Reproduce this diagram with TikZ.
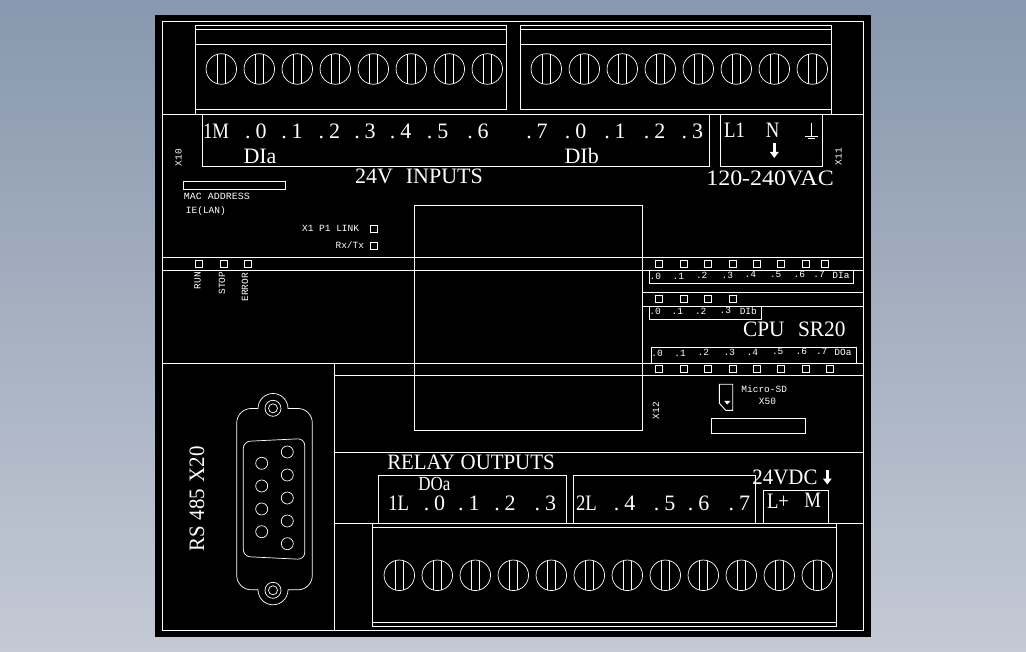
\documentclass[tikz,border=0pt]{standalone}
\usepackage{fontspec}
\setmainfont{Liberation Serif}
\newfontfamily\cadfont{Liberation Mono}
\usetikzlibrary{arrows.meta}

\definecolor{skytop}{RGB}{136,152,174}
\definecolor{skybottom}{RGB}{196,201,213}

\tikzset{
	wire/.style={draw=white, line width=0.9pt},
	thin wire/.style={draw=white, line width=0.7pt},
	big/.style={text=white, inner sep=0pt, text height=14.8pt, text depth=0pt, font=\fontsize{22}{22}\selectfont},
	tiny/.style={text=white, inner sep=0pt, text height=6.4pt, text depth=0pt, font=\cadfont\fontsize{9.5}{9.5}\selectfont},
	led/.style={draw=white, line width=0.9pt, inner sep=0pt, minimum size=7pt},
	screw/.style={draw=white, line width=0.7pt, circle, inner sep=0pt, minimum size=30.5pt},
	hole/.style={draw=white, line width=0.7pt, circle, inner sep=0pt, minimum size=12pt},
	power/.style={white, line width=2.4pt, -{Triangle[length=6pt,width=8.5pt]}}
}
\newcommand{\screwrow}[4]{%
	\foreach \i in {1,...,#3} {
		\node[screw] (#1\i) at ({#2+38*(\i-1)},#4) {};
		\draw[thin wire] ([xshift=-4.2pt,yshift=14.7pt]#1\i.center) -- ([xshift=-4.2pt,yshift=-14.7pt]#1\i.center);
		\draw[thin wire] ([xshift=4.4pt,yshift=14.7pt]#1\i.center) -- ([xshift=4.4pt,yshift=-14.7pt]#1\i.center);
	}
}
\newcommand{\dotlabel}[1]{.\hspace{5pt}#1}

\begin{document}
\begin{tikzpicture}[x=1pt, y=-1pt]
	\useasboundingbox (0,0) rectangle (1026,652);
	\shade[top color=skytop, bottom color=skybottom] (0,0) rectangle (1026,652);
	\fill[black] (155,15) rectangle (871,637);
	\draw[wire] (162.3,21.3) rectangle (863.3,630);

	% top terminal blocks
	\draw[wire] (195.3,114.3) -- (195.3,25.3) -- (506.7,25.3) -- (506.7,109.3) -- (195.3,109.3);
	\draw[wire] (195.3,29.3) -- (506.7,29.3);
	\draw[wire] (195.3,44.3) -- (506.7,44.3);
	\draw[wire] (520.3,109.3) -- (520.3,25.3) -- (831.7,25.3) -- (831.7,114.3);
	\draw[wire] (520.3,109.3) -- (831.7,109.3);
	\draw[wire] (520.3,29.3) -- (831.7,29.3);
	\draw[wire] (520.3,44.3) -- (831.7,44.3);
	\screwrow{ina}{221.3}{8}{69}
	\screwrow{inb}{546.3}{8}{69}

	% front plate lines
	\draw[wire] (162.3,114.3) -- (863.3,114.3);
	\draw[wire] (202.7,114.3) -- (202.7,166) -- (709.3,166) -- (709.3,114.3);
	\draw[wire] (720.7,114.3) -- (720.7,166) -- (822.3,166) -- (822.3,114.3);
	\draw[wire] (414.3,205.3) rectangle (642.7,430.3);
	\draw[wire] (162.3,257.3) -- (863.3,257.3);
	\draw[wire] (162.3,270.3) -- (863.3,270.3);
	\draw[wire] (642.7,292.3) -- (863.3,292.3);
	\draw[wire] (642.7,306.7) -- (863.3,306.7);
	\draw[wire] (162.3,363.3) -- (863.3,363.3);
	\draw[wire] (334.3,375.3) -- (863.3,375.3);
	\draw[wire] (334.3,363.3) -- (334.3,630);
	\draw[wire] (334.3,452.3) -- (863.3,452.3);
	\draw[wire] (334.3,523.7) -- (863.3,523.7);

	% top labels
	\node[big, xscale=0.85] (oneM) at (216,131.5) {1M};
	\foreach \x/\t in {255.8/0, 292/1, 329.3/2, 365/3, 400.7/4, 437.7/5, 478/6, 537/7, 575.7/0, 615/1, 654.5/2, 692.3/3}
		\node[big] (in\x) at (\x,131.5) {\dotlabel{\t}};
	\node[big] (dia) at (260,155.7) {DIa};
	\node[big] (dib) at (581.7,155.7) {DIb};
	\node[big] (inputs) at (419,175.7) {24V\hspace{13pt}INPUTS};
	\node[big, xscale=0.85] (lone) at (734.5,129.7) {L1};
	\node[big, xscale=0.85] (neutral) at (772.7,129.7) {N};
	\node[big, xscale=1.09] (vac) at (770,177.7) {120-240VAC};
	\draw[power] (774.3,143) -- (774.3,158);
	\draw[thin wire] (811.3,123) -- (811.3,136.5) (805,136.5) -- (817.6,136.5) (807.5,138.3) -- (815,138.3);

	% small labels
	\node[tiny, rotate=90] (xten) at (178.3,157.7) {X10};
	\node[tiny, rotate=90] (xeleven) at (838.3,156.7) {X11};
	\node[tiny, rotate=90] (xtwelve) at (656,410.7) {X12};
	\draw[wire] (183.3,181.3) rectangle (285.7,189.3);
	\node[tiny, xscale=1.05, anchor=west] (mac) at (183.7,196.7) {MAC ADDRESS};
	\node[tiny, anchor=west] (lan) at (185.7,210.3) {IE(LAN)};
	\node[tiny, anchor=east] (link) at (359.3,228.7) {X1 P1 LINK};
	\node[tiny, anchor=east] (rxtx) at (364.3,245) {Rx/Tx};
	\node[led] (ledlink) at (374,229) {};
	\node[led] (ledrx) at (374,245.7) {};
	\node[led] (ledrun) at (199.3,264) {};
	\node[led] (ledstop) at (224,264) {};
	\node[led] (lederror) at (248,264) {};
	\node[tiny, rotate=90] (run) at (197.3,280.7) {RUN};
	\node[tiny, rotate=90] (stop) at (222,283) {STOP};
	\node[tiny, rotate=90] (error) at (245,287.3) {ERROR};

	% status leds and their strips
	\foreach \x in {659.3,684,708.3,732.7,757,781.3,806,824.7}
		\node[led] (leda\x) at (\x,263.7) {};
	\foreach \x in {659.3,684,708.3,732.7}
		\node[led] (ledb\x) at (\x,299) {};
	\foreach \x in {659.3,684,708.3,732.7,757,781.3,806,830}
		\node[led] (ledc\x) at (\x,369) {};
	\draw[wire] (649.3,270.3) -- (649.3,283.3) -- (853.7,283.3) -- (853.7,270.3);
	\draw[wire] (649.3,306.7) -- (649.3,319.3) -- (761.7,319.3) -- (761.7,306.7);
	\draw[wire] (651.3,363.3) -- (651.3,347.7) -- (856.7,347.7) -- (856.7,363.3);
	\foreach \x/\y/\t in {655.3/276.7/.0, 678.3/276.7/.1, 701.7/275.3/.2, 727.3/275.3/.3, 750.3/274.7/.4, 775.7/274.7/.5, 799.3/274.7/.6, 819/274.7/.7, 841/275.3/DIa}
		\node[tiny] (stripa\x) at (\x,\y) {\t};
	\foreach \x/\y/\t in {655/311.3/.0, 677.3/311.3/.1, 700.7/311.3/.2, 725.3/310.3/.3, 748.3/311.3/DIb}
		\node[tiny] (stripb\x) at (\x,\y) {\t};
	\foreach \x/\y/\t in {657/353.7/.0, 680/353.7/.1, 703.3/352.3/.2, 729.3/352.3/.3, 752.3/352.3/.4, 777.7/351.7/.5, 801.3/351.7/.6, 821.7/351.7/.7, 843/352.3/DOa}
		\node[tiny] (stripc\x) at (\x,\y) {\t};
	\node[big, xscale=0.97] (cpu) at (794.3,328.7) {CPU\hspace{14pt}SR20};

	% micro sd
	\draw[wire] (719.3,384.3) -- (732.7,384.3) -- (732.7,410.3) -- (725.7,410.3) -- (719.3,403.3) -- cycle;
	\fill[white] (724.3,401) -- (730.3,401) -- (727.3,404.5) -- cycle;
	\node[tiny] (sd) at (764.2,389.3) {Micro-SD};
	\node[tiny] (xfifty) at (767.5,401.7) {X50};
	\draw[wire] (711.3,418.3) rectangle (805.7,433.7);

	% rs485 port
	\node[big, rotate=90, xscale=0.95] (rs) at (196.7,498.7) {RS 485\hspace{7pt}X20};
	\draw[thin wire] (236.7,423) arc[start angle=180, end angle=270, radius=14.5] -- (258,408.5)
		arc[start angle=180, end angle=360, radius=15] -- (298,408.5)
		arc[start angle=270, end angle=360, radius=14.3] -- (312.3,575.5)
		arc[start angle=0, end angle=90, radius=14.3] -- (288,589.8)
		arc[start angle=0, end angle=180, radius=15] -- (251.2,589.8)
		arc[start angle=90, end angle=180, radius=14.5] -- cycle;
	\node[hole, minimum size=16pt] (bolta) at (273,408.3) {};
	\node[hole, minimum size=9pt] (boltai) at (273,408.3) {};
	\node[hole, minimum size=16pt] (boltb) at (273,590.3) {};
	\node[hole, minimum size=9pt] (boltbi) at (273,590.3) {};
	\draw[thin wire, rounded corners=7pt] (243.3,441.5) -- (304.7,438.5) -- (304.7,559.5) -- (243.3,556.5) -- cycle;
	\foreach \y in {452,475,498,521,543.7}
		\node[hole] (pina\y) at (287.3,\y) {};
	\foreach \y in {463.3,486,509,531.7}
		\node[hole] (pinb\y) at (261.7,\y) {};

	% bottom labels
	\node[big, xscale=0.95] (relay) at (471,462.3) {RELAY\hspace{6pt}OUTPUTS};
	\node[big, xscale=0.85, font=\fontsize{20}{20}\selectfont, text height=13.5pt] (doa) at (434.3,483.3) {DOa};
	\node[big, xscale=0.85] (oneL) at (398.7,503) {1L};
	\node[big, xscale=0.85] (twoL) at (586.5,503) {2L};
	\foreach \x/\t in {434.5/0, 468.8/1, 505/2, 545.3/3, 624.5/4, 664.5/5, 698.5/6, 739.3/7}
		\node[big] (out\x) at (\x,503) {\dotlabel{\t}};
	\node[big, xscale=0.95] (vdc) at (785,477.3) {24VDC};
	\draw[power] (827.3,470) -- (827.3,484.5);
	\node[big, xscale=0.85] (lplus) at (778,500.7) {L+};
	\node[big, xscale=0.85] (minus) at (812.7,500) {M};
	\draw[wire] (378.3,523.7) -- (378.3,475.3) -- (566.7,475.3) -- (566.7,523.7);
	\draw[wire] (573.3,523.7) -- (573.3,475.3) -- (755.7,475.3) -- (755.7,523.7);
	\draw[wire] (763.3,523.7) -- (763.3,490.3) -- (828.7,490.3) -- (828.7,523.7);

	% bottom terminal block
	\draw[wire] (372.3,523.7) rectangle (836.7,626.3);
	\draw[wire] (372.3,527.3) -- (836.7,527.3);
	\draw[wire] (372.3,622.3) -- (836.7,622.3);
	\screwrow{outa}{399.3}{12}{575.3}
\end{tikzpicture}
\end{document}
